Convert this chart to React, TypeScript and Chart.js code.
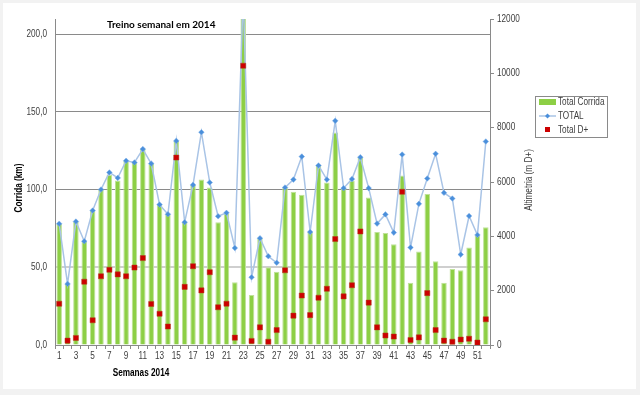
import React, { useEffect, useRef } from 'react';
import { Chart, registerables } from 'chart.js';
Chart.register(...registerables);

const weeks = ['1','2','3','4','5','6','7','8','9','10','11','12','13','14','15','16','17','18','19','20','21','22','23','24','25','26','27','28','29','30','31','32','33','34','35','36','37','38','39','40','41','42','43','44','45','46','47','48','49','50','51','52'];

const totalCorrida = [77.9, 39.3, 79.4, 66.5, 86.5, 100, 109.4, 105.8, 118.5, 117.4,
  126, 116.7, 90.1, 84.1, 131.3, 79, 103, 106.4, 101.3, 79,
  84.3, 40.3, 225, 32.2, 68.7, 50, 47.1, 101.3, 98.5, 96.6,
  72.7, 115.7, 104.5, 136.7, 100.9, 105.8, 120.8, 94.8, 72.7, 72.0,
  64.8, 109, 40.1, 60.1, 97.2, 53.9, 40.1, 48.9, 48.1, 62.7,
  70.4, 75.8];

const totalKm = [78, 39.3, 79.4, 66.7, 86.5, 100, 111, 107.5, 118.5, 117.4,
  126, 116.7, 90.3, 84.1, 131.3, 79, 103, 136.9, 104.5, 82.8,
  85, 62.4, 225, 43.6, 68.7, 57.1, 52.9, 101.3, 106.4, 121.2,
  72.7, 115.5, 106.4, 144.2, 100.9, 106.7, 120.8, 100.9, 78.1, 84.0,
  72.3, 122.5, 62.7, 90.8, 107.1, 123, 97.9, 94.2, 58.2, 83,
  70.8, 130.9];

const totalDplus = [1520, 160, 260, 2330, 910, 2530, 2770, 2600, 2530, 2850,
  3200, 1510, 1150, 680, 6900, 2140, 2900, 2010, 2680, 1390,
  1520, 270, 10280, 150, 650, 120, 550, 2750, 1080, 1820,
  1100, 1740, 2070, 3900, 1790, 2200, 4180, 1560, 650, 350,
  310, 5640, 185, 280, 1910, 550, 160, 120, 200, 230,
  90, 945];

const leftTicks = [0, 50, 100, 150, 200];
const leftTickLabels = ['0,0', '50,0', '100,0', '150,0', '200,0'];
const rightTicks = [0, 2000, 4000, 6000, 8000, 10000, 12000];
const rightTickLabels = ['0', '2000', '4000', '6000', '8000', '10000', '12000'];

const chartTitle = 'Treino semanal em 2014';
const xTitle = 'Semanas 2014';
const yTitle = 'Corrida (km)';
const y1Title = 'Altimetria (m D+)';
const legendLabels = ['Total Corrida', 'TOTAL', 'Total D+'];

const GREEN = '#8DCF45';
const GREEN_BORDER = '#BFE29A';
const LINE = '#A9C4E6';
const POINT = '#4A8FDB';
const RED = '#CC0000';
const AXIS = '#8A8A8A';
const TXT = '#404040';
const SANS = '"Liberation Sans", Arial, sans-serif';
const NARROW_SCALE = 0.82;

function narrowText(ctx: any, text: string, x: number, y: number, align: string, font: string, color: string, rotate = false) {
  ctx.save();
  ctx.translate(x, y);
  if (rotate) ctx.rotate(-Math.PI / 2);
  ctx.scale(NARROW_SCALE, 1);
  ctx.font = font;
  ctx.fillStyle = color;
  ctx.textAlign = align;
  ctx.textBaseline = 'middle';
  ctx.fillText(text, 0, 0);
  ctx.restore();
}

const decorPlugin = {
  id: 'decor',
  beforeDraw(chart: any) {
    const ctx = chart.ctx;
    ctx.save();
    ctx.fillStyle = '#F2F2F2';
    ctx.fillRect(0, 0, chart.width, chart.height);
    ctx.fillStyle = '#FFFFFF';
    ctx.fillRect(3, 3, 633, 386);
    ctx.restore();
  },
  afterDraw(chart: any) {
    const ctx = chart.ctx;
    const xs = chart.scales.x;
    const ys = chart.scales.y;
    const y1s = chart.scales.y1;
    const tickFont = '10px ' + SANS;

    // tick labels
    weeks.forEach((w, i) => {
      if (i % 2 === 0) narrowText(ctx, w, xs.getPixelForValue(i), 356, 'center', tickFont, TXT);
    });
    leftTicks.forEach((v, i) => {
      narrowText(ctx, leftTickLabels[i], 47, ys.getPixelForValue(v), 'right', tickFont, TXT);
    });
    rightTicks.forEach((v, i) => {
      narrowText(ctx, rightTickLabels[i], 497, y1s.getPixelForValue(v), 'left', tickFont, TXT);
    });

    ctx.save();
    // chart title
    ctx.fillStyle = '#000000';
    ctx.font = 'bold 10px Lato, "Liberation Sans", sans-serif';
    ctx.textAlign = 'left';
    ctx.textBaseline = 'middle';
    ctx.fillText(chartTitle, 107, 25);
    ctx.restore();

    narrowText(ctx, xTitle, 141, 373, 'center', 'bold 10px ' + SANS, '#000000');
    narrowText(ctx, yTitle, 19, 188, 'center', 'bold 10px ' + SANS, '#000000', true);
    narrowText(ctx, y1Title, 529, 180, 'center', '10px ' + SANS, TXT, true);

    // legend
    ctx.save();
    ctx.strokeStyle = AXIS;
    ctx.lineWidth = 1;
    ctx.strokeRect(535.5, 96.5, 72, 41);
    ctx.fillStyle = GREEN;
    ctx.fillRect(539, 99, 17, 6);
    ctx.strokeStyle = LINE;
    ctx.lineWidth = 1.5;
    ctx.beginPath();
    ctx.moveTo(539, 116);
    ctx.lineTo(556, 116);
    ctx.stroke();
    ctx.fillStyle = POINT;
    ctx.beginPath();
    ctx.moveTo(547.5, 113.5);
    ctx.lineTo(550, 116);
    ctx.lineTo(547.5, 118.5);
    ctx.lineTo(545, 116);
    ctx.closePath();
    ctx.fill();
    ctx.fillStyle = RED;
    ctx.fillRect(545, 127, 5, 5);
    ctx.restore();
    narrowText(ctx, legendLabels[0], 558, 102, 'left', tickFont, TXT);
    narrowText(ctx, legendLabels[1], 558, 116, 'left', tickFont, TXT);
    narrowText(ctx, legendLabels[2], 558, 130, 'left', tickFont, TXT);
  },
};

export default function App() {
  const ref = useRef<HTMLCanvasElement>(null);
  useEffect(() => {
    if (!ref.current) return;
    const chart = new Chart(ref.current, {
      type: 'bar',
      data: {
        labels: weeks,
        datasets: [
          {
            type: 'bar',
            label: legendLabels[0],
            data: totalCorrida,
            backgroundColor: GREEN,
            borderColor: GREEN_BORDER,
            borderWidth: 1,
            barPercentage: 0.66,
            categoryPercentage: 1,
            yAxisID: 'y',
            order: 3,
          },
          {
            type: 'line',
            label: legendLabels[1],
            data: totalKm,
            borderColor: LINE,
            borderWidth: 1.5,
            pointStyle: 'rectRot',
            pointRadius: 2.8,
            pointBackgroundColor: POINT,
            pointBorderColor: '#7FB0E8',
            pointBorderWidth: 0.5,
            tension: 0,
            yAxisID: 'y',
            order: 2,
          },
          {
            type: 'line',
            label: legendLabels[2],
            data: totalDplus,
            showLine: false,
            pointStyle: 'rect',
            pointRadius: 3.6,
            pointBackgroundColor: RED,
            pointBorderColor: '#B23A1A',
            pointBorderWidth: 0.5,
            yAxisID: 'y1',
            order: 1,
          },
        ],
      },
      options: {
        animation: false,
        responsive: false,
        maintainAspectRatio: false,
        events: [],
        layout: { padding: { left: 0, right: 110, top: 19, bottom: 25 } },
        plugins: {
          legend: { display: false },
          title: { display: false },
          tooltip: { enabled: false },
        },
        scales: {
          x: {
            offset: true,
            grid: {
              offset: true,
              drawOnChartArea: false,
              drawTicks: true,
              tickLength: 4,
              color: AXIS,
            },
            border: { color: AXIS },
            ticks: { display: false, autoSkip: false, maxRotation: 0, minRotation: 0 },
            afterFit: (s: any) => { s.height = 25; },
          },
          y: {
            position: 'left',
            min: 0,
            max: 209.7,
            afterBuildTicks: (s: any) => { s.ticks = leftTicks.map((v) => ({ value: v })); },
            grid: {
              drawTicks: false,
              color: (c: any) => (c.tick && c.tick.value === 50 ? '#CFCFCF' : AXIS),
              lineWidth: (c: any) => (c.tick && c.tick.value === 50 ? 2 : 1),
            },
            border: { color: AXIS },
            ticks: { display: false },
            afterFit: (s: any) => { s.width = 55; },
          },
          y1: {
            position: 'right',
            min: 0,
            max: 12000,
            afterBuildTicks: (s: any) => { s.ticks = rightTicks.map((v) => ({ value: v })); },
            grid: {
              drawOnChartArea: false,
              drawTicks: true,
              tickLength: 4,
              color: AXIS,
            },
            border: { color: AXIS },
            ticks: { display: false },
            afterFit: (s: any) => { s.width = 40; },
          },
        },
      },
      plugins: [decorPlugin],
    });
    return () => chart.destroy();
  }, []);

  return (
    <div style={{ position: 'fixed', left: 0, top: 0, width: 640, height: 395 }}>
      <canvas ref={ref} width={640} height={395} style={{ display: 'block' }} />
    </div>
  );
}
